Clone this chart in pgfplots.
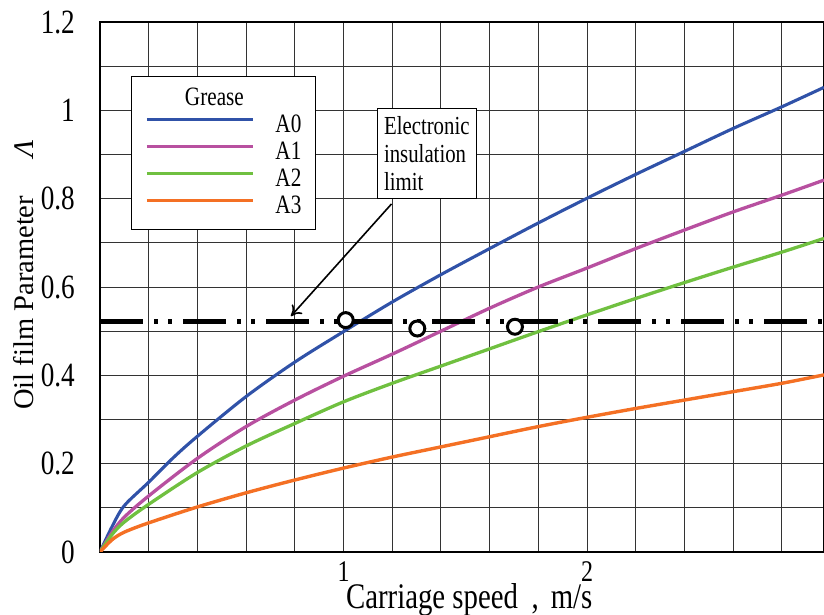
\documentclass[border=0pt]{standalone}
\usepackage{fontspec}
\setmainfont{Liberation Serif}
\usepackage{pgfplots}
\pgfplotsset{compat=1.18}
\usetikzlibrary{arrows.meta}
\definecolor{cA0}{RGB}{48,82,168}
\definecolor{cA1}{RGB}{184,80,160}
\definecolor{cA2}{RGB}{112,192,64}
\definecolor{cA3}{RGB}{244,112,36}
\newcommand{\sq}[1]{\scalebox{0.8}[1]{#1}}

\begin{document}
\begin{tikzpicture}
\begin{axis}[
 name=ax, at={(0,0)}, anchor=south west,
 width=724pt, height=530pt, scale only axis,
 xmin=0, xmax=2.973, ymin=0, ymax=1.2,
 xtick={1,2}, minor xtick={0.2,0.4,0.6,0.8,1.2,1.4,1.6,1.8,2.2,2.4,2.6,2.8},
 ytick={0,0.2,0.4,0.6,0.8,1,1.2}, minor ytick={0.1,0.3,0.5,0.7,0.9,1.1},
 grid=both,
 major grid style={black!80,line width=0.9pt},
 minor grid style={black!80,line width=0.9pt},
 major tick length=0pt, minor tick length=0pt,
 axis line style={black, line width=1.6pt},
 /pgf/number format/assume math mode=true,
 yticklabel={\sq{\pgfmathprintnumber{\tick}}},
 xticklabel={\sq{\pgfmathprintnumber{\tick}}},
 yticklabel style={font=\fontsize{34}{34}\selectfont, anchor=east, inner sep=0pt, xshift=-25pt},
 xticklabel style={font=\fontsize{30}{30}\selectfont, anchor=north, inner sep=0pt, yshift=-9pt},
 clip mode=individual,
 xlabel={\sq{Carriage speed\hspace{17pt},\hspace{15pt}m/s}},
 every axis x label/.style={at={(axis description cs:0.51,-0.1057)}, anchor=base, font=\fontsize{36}{36}\selectfont},
 ylabel={Oil film Parameter\hspace{38pt}\textit{Λ}},
 every axis y label/.style={at={(axis description cs:-0.0925,0.262)}, rotate=90, anchor=base west, font=\fontsize{28.5}{28.5}\selectfont},
 legend style={at={(axis cs:0.126,1.078)}, anchor=north west, draw=black, line width=0.8pt, fill=white,
   inner xsep=14pt, inner ysep=12pt, row sep=6pt,
   nodes={inner sep=0pt, text height=17pt, text depth=4pt, font=\fontsize{26.5}{26.5}\selectfont},
   /tikz/every odd column/.append style={column sep=21pt}},
 legend cell align=left,
 legend image code/.code={\draw[#1, line width=3.4pt] (0pt,6pt) -- (106pt,6pt);},
]
\addlegendimage{empty legend}
\addlegendentry{\makebox[0pt][l]{\hspace*{-91pt}\sq{Grease}}}

\addplot[cA0, line width=3.1pt, smooth, tension=0.5] coordinates {
(0,0) (0.05,0.058) (0.1,0.105) (0.2,0.158) (0.3,0.213) (0.4,0.262) (0.6,0.352) (0.8,0.430)
(1.0,0.499) (1.2,0.566) (1.4,0.628) (1.6,0.687) (1.8,0.745) (2.0,0.801) (2.2,0.855)
(2.4,0.907) (2.6,0.959) (2.8,1.008) (2.973,1.052)};
\addlegendentry{\sq{A0}}
\addplot[cA1, line width=3.3pt, smooth, tension=0.5] coordinates {
(0,0) (0.05,0.045) (0.1,0.079) (0.2,0.127) (0.4,0.212) (0.6,0.284) (0.8,0.344)
(1.0,0.398) (1.2,0.448) (1.4,0.500) (1.6,0.552) (1.8,0.600) (2.0,0.643) (2.2,0.687)
(2.4,0.729) (2.6,0.770) (2.8,0.808) (2.973,0.842)};
\addlegendentry{\sq{A1}}
\addplot[cA2, line width=3.3pt, smooth, tension=0.5] coordinates {
(0,0) (0.05,0.04) (0.1,0.068) (0.2,0.108) (0.4,0.180) (0.6,0.240) (0.8,0.291)
(1.0,0.340) (1.2,0.382) (1.4,0.421) (1.6,0.460) (1.8,0.499) (2.0,0.537) (2.2,0.574)
(2.4,0.61) (2.6,0.645) (2.8,0.679) (2.973,0.710)};
\addlegendentry{\sq{A2}}
\addplot[cA3, line width=3.4pt, smooth, tension=0.5] coordinates {
(0,0) (0.05,0.028) (0.1,0.045) (0.2,0.066) (0.4,0.102) (0.6,0.134) (0.8,0.163)
(1.0,0.19) (1.2,0.215) (1.4,0.238) (1.6,0.261) (1.8,0.284) (2.0,0.305) (2.2,0.325)
(2.4,0.344) (2.6,0.363) (2.8,0.382) (2.973,0.401)};
\addlegendentry{\sq{A3}}

\addplot[black, line width=5pt, dash pattern=on 43pt off 11pt on 4pt off 10pt on 4pt off 11pt, forget plot]
 coordinates {(0,0.521) (2.973,0.521)};
\addplot[only marks, mark=*, mark size=7.5pt, mark options={fill=white, draw=black, line width=3pt}, forget plot]
 coordinates {(1.009,0.525) (1.303,0.506) (1.704,0.510)};

\node[draw=black, line width=0.8pt, fill=white, anchor=north west, align=left, inner xsep=7pt, inner ysep=8pt,
 font=\fontsize{26}{28}\selectfont] at (axis cs:1.136,1.006) {\sq{Electronic}\\\sq{insulation}\\\sq{limit}};
\draw[line width=1.6pt, -{To[length=10pt,width=14pt]}] (axis cs:1.197,0.788) -- (axis cs:0.784,0.534);
\node[overlay, anchor=north, inner sep=0pt, yshift=-9pt, font=\fontsize{30}{30}\selectfont] at (axis cs:3,0) {\sq{3}};
\end{axis}
\pgfresetboundingbox
\useasboundingbox ([shift={(-100pt,-63pt)}]ax.south west) rectangle ([shift={(0pt,22pt)}]ax.north east);
\end{tikzpicture}
\end{document}
